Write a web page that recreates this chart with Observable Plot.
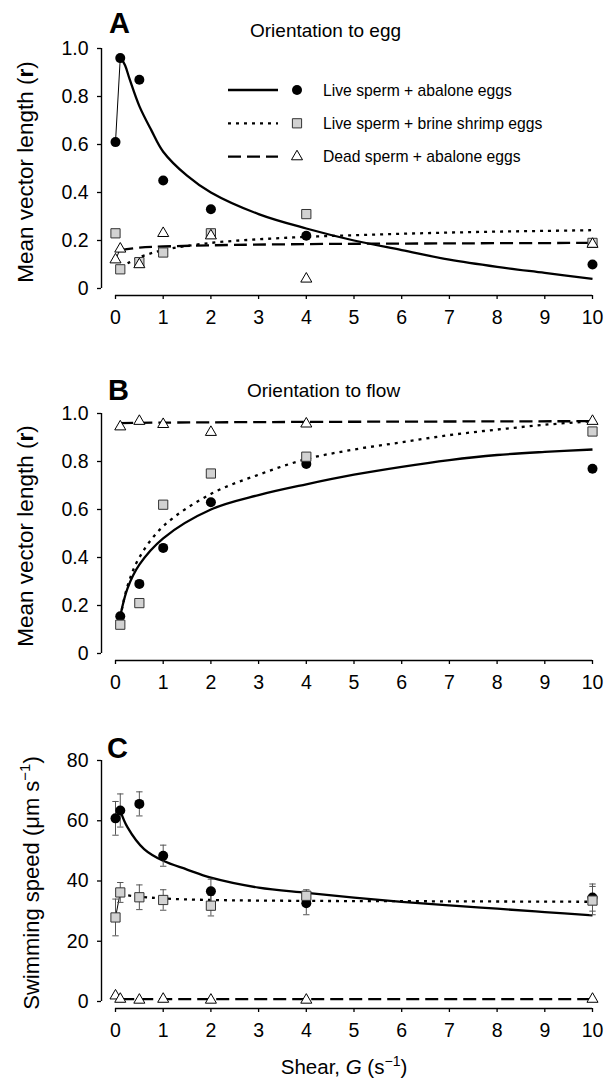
<!DOCTYPE html>
<html><head><meta charset="utf-8">
<script src="https://cdn.jsdelivr.net/npm/d3@7"></script>
<script src="https://cdn.jsdelivr.net/npm/@observablehq/plot@0.6"></script>
<style>
body{margin:0;background:#fff;}
#fig{position:relative;width:607px;height:1081px;overflow:hidden;background:#fff;font-family:"Liberation Sans",Arial,sans-serif;}
</style></head><body><div id="fig"></div>
<script>
// ---------- data ----------
const seriesNames = ["Live sperm + abalone eggs", "Live sperm + brine shrimp eggs", "Dead sperm + abalone eggs"];
const xTicks = [0, 1, 2, 3, 4, 5, 6, 7, 8, 9, 10];
const rTicks = [0, 0.2, 0.4, 0.6, 0.8, 1.0];
const rTickLabels = ["0", "0.2", "0.4", "0.6", "0.8", "1.0"];
const speedTicks = [0, 20, 40, 60, 80];

// Panel A: orientation to egg
const shearA = [0, 0.1, 0.5, 1, 2, 4, 10];
const eggLive = [0.61, 0.96, 0.87, 0.45, 0.33, 0.22, 0.10];
const eggBrine = [0.23, 0.08, 0.11, 0.15, 0.23, 0.31, 0.19];
const eggDead = [0.12, 0.165, 0.10, 0.23, 0.22, 0.04, 0.185];
const fitEggLiveX = [0.1, 0.2, 0.3, 0.5, 0.75, 1, 1.5, 2, 3, 4, 5, 6, 7, 8, 9, 10];
const fitEggLiveY = [0.965, 0.93, 0.87, 0.76, 0.66, 0.57, 0.47, 0.40, 0.31, 0.25, 0.20, 0.16, 0.12, 0.09, 0.065, 0.04];
const fitEggBrineX = [0.1, 0.3, 0.5, 1, 2, 3, 4, 5, 6, 7, 8, 9, 10];
const fitEggBrineY = [0.09, 0.11, 0.13, 0.16, 0.19, 0.205, 0.215, 0.222, 0.228, 0.233, 0.237, 0.24, 0.243];
const fitEggDeadX = [0.1, 0.5, 1, 2, 4, 7, 10];
const fitEggDeadY = [0.16, 0.17, 0.175, 0.18, 0.185, 0.188, 0.19];

// Panel B: orientation to flow
const shearB = [0.1, 0.5, 1, 2, 4, 10];
const flowLive = [0.155, 0.29, 0.44, 0.63, 0.79, 0.77];
const flowBrine = [0.12, 0.21, 0.62, 0.75, 0.82, 0.925];
const flowDead = [0.945, 0.968, 0.955, 0.922, 0.957, 0.968];
const fitFlowLiveX = [0.1, 0.25, 0.5, 1, 2, 3, 4, 5, 6, 7, 8, 9, 10];
const fitFlowLiveY = [0.155, 0.27, 0.37, 0.48, 0.60, 0.66, 0.705, 0.745, 0.778, 0.806, 0.827, 0.84, 0.85];
const fitFlowBrineX = [0.1, 0.25, 0.5, 1, 2, 3, 4, 5, 6, 7, 8, 9, 10];
const fitFlowBrineY = [0.15, 0.28, 0.40, 0.53, 0.665, 0.745, 0.81, 0.85, 0.88, 0.91, 0.933, 0.953, 0.968];
const fitFlowDeadX = [0.1, 1, 4, 10];
const fitFlowDeadY = [0.96, 0.962, 0.965, 0.968];

// Panel C: swimming speed
const shearC = [0, 0.1, 0.5, 1, 2, 4, 10];
const speedLive = [60.8, 63.4, 65.6, 48.4, 36.6, 32.6, 34.5];
const speedLiveErr = [5.6, 5.5, 4.0, 3.5, 4.0, 3.8, 4.5];
const speedBrine = [27.9, 36.2, 34.6, 33.7, 31.8, 35.1, 33.5];
const speedBrineErr = [6.1, 3.3, 4.1, 3.4, 3.4, 2.0, 4.7];
const speedDead = [1.9, 0.8, 0.5, 0.8, 0.5, 0.5, 0.8];
const fitSpeedLiveX = [0.1, 0.25, 0.6, 1, 1.5, 2, 3, 4, 5, 6, 7, 8, 9, 10];
const fitSpeedLiveY = [63.4, 57.9, 50.6, 46.7, 43.8, 41.1, 37.8, 36.1, 34.5, 33.1, 31.9, 30.8, 29.7, 28.6];
const fitSpeedBrineX = [0.1, 0.5, 1, 2, 4, 6, 10];
const fitSpeedBrineY = [35.5, 34.8, 34.2, 33.7, 33.4, 33.3, 33.1];
const fitSpeedDeadX = [0.12, 10];
const fitSpeedDeadY = [0.8, 0.8];

// ---------- helpers ----------
const FONT = '"Liberation Sans", Arial, Helvetica, sans-serif';
const rows = (xs, ys, es) => xs.map((x, i) => ({x, y: ys[i], lo: es ? ys[i] - es[i] : null, hi: es ? ys[i] + es[i] : null}));
const capSymbol = {draw(ctx, size) { const r = Math.sqrt(size / Math.PI); ctx.moveTo(-r, 0); ctx.lineTo(r, 0); }};

const SOLID = null, DOTTED = "3,5", DASHED = "13,6";
const fitLine = (xs, ys, dash) => Plot.line(rows(xs, ys), {x: "x", y: "y", stroke: "#000", strokeWidth: 2.3, curve: "catmull-rom", strokeDasharray: dash, strokeLinecap: "butt"});
const joinLine = (xs, ys, i, j) => Plot.line(rows([xs[i], xs[j]], [ys[i], ys[j]]), {x: "x", y: "y", stroke: "#000", strokeWidth: 1});
const circles = (xs, ys) => Plot.dot(rows(xs, ys), {x: "x", y: "y", r: 5, fill: "#000", stroke: "none"});
const squares = (xs, ys) => Plot.dot(rows(xs, ys), {x: "x", y: "y", symbol: "square", r: 5.2, fill: "#d2d2d2", stroke: "#333", strokeWidth: 1});
const triangles = (xs, ys) => Plot.dot(rows(xs, ys), {x: "x", y: "y", symbol: "triangle", r: 4.1, fill: "#fff", stroke: "#000", strokeWidth: 1});
const errBars = (xs, ys, es) => [
  Plot.ruleX(rows(xs, ys, es), {x: "x", y1: "lo", y2: "hi", stroke: "#555", strokeWidth: 1}),
  Plot.dot(rows(xs, ys, es), {x: "x", y: "hi", symbol: capSymbol, r: 3.2, stroke: "#555", strokeWidth: 1, fill: "none"}),
  Plot.dot(rows(xs, ys, es), {x: "x", y: "lo", symbol: capSymbol, r: 3.2, stroke: "#555", strokeWidth: 1, fill: "none"})
];

function panel({top, height, marginTop, marginBottom, yDomain, yTicks, yFmt, marks}) {
  const svg = Plot.plot({
    width: 607, height, marginLeft: 101, marginRight: 15, marginTop, marginBottom,
    style: {fontFamily: FONT, fontSize: "19.5px", color: "#000", background: "transparent", overflow: "visible"},
    x: {domain: [0, 10], insetLeft: 14},
    y: {domain: yDomain, insetBottom: 7},
    marks: [
      Plot.axisY({ticks: yTicks, tickFormat: yFmt, tickSize: 4, tickPadding: 9, label: null, fontSize: 19.5, strokeWidth: 1.3}),
      Plot.axisX({ticks: xTicks, tickFormat: d => String(d), tickSize: 4, tickPadding: 11, label: null, fontSize: 19.5, strokeWidth: 1.3}),
      Plot.ruleX([0], {y1: yDomain[0], y2: yDomain[1], dx: -14, stroke: "#000", strokeWidth: 1.4}),
      Plot.ruleY([yDomain[0]], {x1: 0, x2: 10, dy: 7, stroke: "#000", strokeWidth: 1.4}),
      ...marks
    ]
  });
  svg.style.position = "absolute";
  svg.style.left = "0px";
  svg.style.top = top + "px";
  return svg;
}

const fig = document.getElementById("fig");
const rFmt = d => rTickLabels[rTicks.indexOf(d)];

fig.appendChild(panel({
  top: 0, height: 340, marginTop: 48, marginBottom: 45, yDomain: [0, 1], yTicks: rTicks, yFmt: rFmt,
  marks: [
    joinLine(shearA, eggLive, 0, 1),
    joinLine(shearA, eggDead, 0, 1),
    fitLine(fitEggLiveX, fitEggLiveY, SOLID),
    fitLine(fitEggBrineX, fitEggBrineY, DOTTED),
    fitLine(fitEggDeadX, fitEggDeadY, DASHED),
    circles(shearA, eggLive),
    squares(shearA, eggBrine),
    triangles(shearA, eggDead)
  ]
}));

fig.appendChild(panel({
  top: 340, height: 360, marginTop: 73, marginBottom: 40, yDomain: [0, 1], yTicks: rTicks, yFmt: rFmt,
  marks: [
    fitLine(fitFlowLiveX, fitFlowLiveY, SOLID),
    fitLine(fitFlowBrineX, fitFlowBrineY, DOTTED),
    fitLine(fitFlowDeadX, fitFlowDeadY, DASHED),
    circles(shearB, flowLive),
    squares(shearB, flowBrine),
    triangles(shearB, flowDead)
  ]
}));

fig.appendChild(panel({
  top: 700, height: 381, marginTop: 60, marginBottom: 73, yDomain: [0, 80], yTicks: speedTicks, yFmt: d => String(d),
  marks: [
    joinLine(shearC, speedLive, 0, 1),
    joinLine(shearC, speedBrine, 0, 1),
    fitLine(fitSpeedLiveX, fitSpeedLiveY, SOLID),
    fitLine(fitSpeedBrineX, fitSpeedBrineY, DOTTED),
    fitLine(fitSpeedDeadX, fitSpeedDeadY, DASHED),
    ...errBars(shearC, speedLive, speedLiveErr),
    ...errBars(shearC, speedBrine, speedBrineErr),
    circles(shearC, speedLive),
    squares(shearC, speedBrine),
    triangles(shearC, speedDead)
  ]
}));

// ---------- annotation overlay (letters, titles, legend, axis titles) ----------
const ov = d3.create("svg").attr("width", 607).attr("height", 1081)
  .style("position", "absolute").style("left", "0px").style("top", "0px")
  .style("pointer-events", "none").style("font-family", FONT);

function txt(x, y, s, size, opts = {}) {
  const t = ov.append("text").attr("x", x).attr("y", y).attr("font-size", size).attr("fill", "#000").text(s);
  if (opts.bold) t.attr("font-weight", "bold");
  if (opts.anchor) t.attr("text-anchor", opts.anchor);
  return t;
}
txt(109, 33, "A", 29, {bold: true});
txt(250, 37, "Orientation to egg", 19);
txt(108, 400, "B", 29, {bold: true});
txt(247, 397, "Orientation to flow", 19);
txt(107, 758, "C", 29, {bold: true});

// legend
const legendDash = [SOLID, DOTTED, DASHED];
const legendSym = [d3.symbolCircle, d3.symbolSquare, d3.symbolTriangle];
const legendFill = ["#000", "#d2d2d2", "#fff"];
const legendStroke = ["none", "#333", "#000"];
const legendR = [5, 5.2, 4.1];
seriesNames.forEach((name, i) => {
  const cy = 90 + i * 33.3;
  const ln = ov.append("line").attr("x1", 228).attr("x2", 278).attr("y1", cy).attr("y2", cy)
    .attr("stroke", "#000").attr("stroke-width", 2.3);
  if (legendDash[i]) ln.attr("stroke-dasharray", legendDash[i]);
  ov.append("path").attr("transform", `translate(297,${cy})`)
    .attr("d", d3.symbol(legendSym[i], Math.PI * legendR[i] * legendR[i])())
    .attr("fill", legendFill[i]).attr("stroke", legendStroke[i]);
  txt(323, cy + 5.5, name, 15.7);
});

// y axis titles
function yTitle(x, y, parts, size) {
  const t = ov.append("text").attr("transform", `translate(${x},${y}) rotate(-90)`)
    .attr("text-anchor", "middle").attr("font-size", size).attr("fill", "#000");
  parts.forEach(p => {
    const s = t.append("tspan").text(p.t);
    if (p.bold) s.attr("font-weight", "bold");
    if (p.sup) s.attr("font-size", size * 0.68).attr("dy", -size * 0.42);
    if (p.down) s.attr("dy", size * 0.42);
  });
}
yTitle(33, 172, [{t: "Mean vector length ("}, {t: "r", bold: true}, {t: ")"}], 22.5);
yTitle(33, 536, [{t: "Mean vector length ("}, {t: "r", bold: true}, {t: ")"}], 22.5);
yTitle(39, 883, [{t: "Swimming speed (μm s"}, {t: "−1", sup: true}, {t: ")", down: true}], 22);

// x axis title
{
  const t = ov.append("text").attr("x", 344).attr("y", 1074).attr("text-anchor", "middle")
    .attr("font-size", 20.5).attr("fill", "#000");
  t.append("tspan").text("Shear, ");
  t.append("tspan").attr("font-style", "italic").text("G");
  t.append("tspan").text(" (s");
  t.append("tspan").attr("font-size", 14).attr("dy", -8.5).text("−1");
  t.append("tspan").attr("dy", 8.5).text(")");
}
fig.appendChild(ov.node());
</script></body></html>
